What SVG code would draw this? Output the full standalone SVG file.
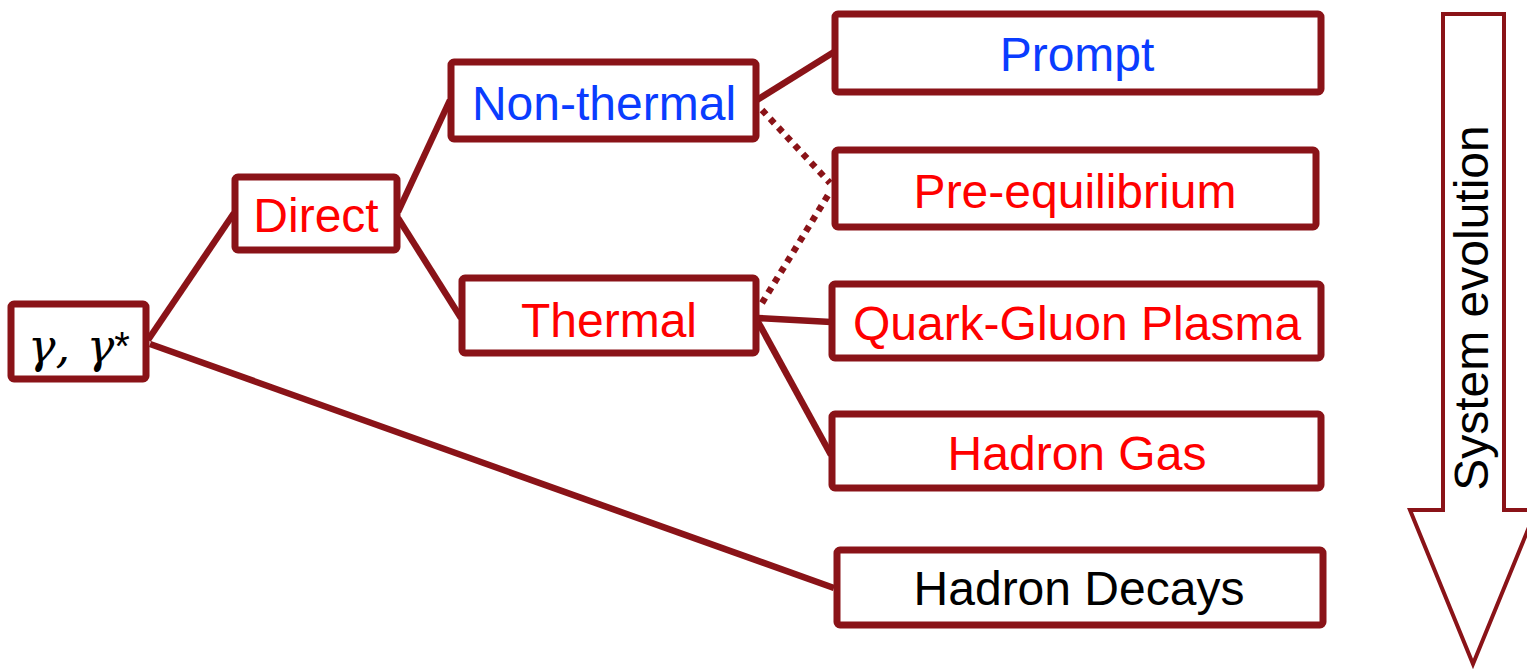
<svg xmlns="http://www.w3.org/2000/svg" width="1527" height="670" viewBox="0 0 1527 670">
  <style>
    .box { fill: #ffffff; stroke: #8a1318; stroke-width: 7; stroke-linejoin: round; }
    .link { fill: none; stroke: #8a1318; stroke-width: 6.5; }
    .dot { fill: none; stroke: #8a1318; stroke-width: 6.5; stroke-dasharray: 6 6; }
    .lbl { font-family: "Liberation Sans", Arial, sans-serif; font-size: 48px; text-anchor: middle; }
    .blue { fill: #0a3cff; }
    .red { fill: #ff0000; }
    .black { fill: #000000; }
    .math { font-family: "DejaVu Serif", "Liberation Serif", serif; font-style: italic; font-size: 46px; fill: #000000; }
  </style>

  <!-- connectors -->
  <g id="connectors">
    <line class="link" x1="148" y1="340" x2="234" y2="213"/>
    <line class="link" x1="150" y1="344" x2="834" y2="588"/>
    <line class="link" x1="398" y1="212" x2="450" y2="100"/>
    <line class="link" x1="398" y1="218" x2="461" y2="318"/>
    <line class="link" x1="757" y1="100" x2="834" y2="52"/>
    <line class="dot" x1="762" y1="110" x2="830" y2="183"/>
    <line class="dot" x1="762" y1="303" x2="830" y2="192"/>
    <line class="link" x1="757" y1="318" x2="831" y2="322"/>
    <line class="link" x1="757" y1="320" x2="831" y2="455"/>
  </g>

  <g id="node-gamma">
    <rect class="box" x="11" y="304" width="135" height="75" rx="3"/>
    <text class="math" x="28" y="362">γ, <tspan dx="2">γ</tspan><tspan font-family="Liberation Sans, sans-serif" font-size="40" dy="-2" font-style="normal">*</tspan></text>
  </g>

  <g id="node-direct">
    <rect class="box" x="235" y="177" width="162" height="73" rx="3"/>
    <text class="lbl red" x="316" y="232">Direct</text>
  </g>

  <g id="node-nonthermal">
    <rect class="box" x="451" y="62" width="305" height="77" rx="3"/>
    <text class="lbl blue" x="604" y="120">Non-thermal</text>
  </g>

  <g id="node-thermal">
    <rect class="box" x="462" y="278" width="294" height="75" rx="3"/>
    <text class="lbl red" x="609" y="337">Thermal</text>
  </g>

  <g id="node-prompt">
    <rect class="box" x="835" y="14" width="486" height="78" rx="3"/>
    <text class="lbl blue" x="1077" y="71">Prompt</text>
  </g>

  <g id="node-preeq">
    <rect class="box" x="835" y="150" width="481" height="77" rx="3"/>
    <text class="lbl red" x="1075" y="208">Pre-equilibrium</text>
  </g>

  <g id="node-qgp">
    <rect class="box" x="832" y="284" width="489" height="74" rx="3"/>
    <text class="lbl red" x="1077" y="340">Quark-Gluon Plasma</text>
  </g>

  <g id="node-hadrongas">
    <rect class="box" x="832" y="414" width="489" height="74" rx="3"/>
    <text class="lbl red" x="1077" y="470">Hadron Gas</text>
  </g>

  <g id="node-hadrondecays">
    <rect class="box" x="837" y="550" width="486" height="75" rx="3"/>
    <text class="lbl black" x="1079" y="605">Hadron Decays</text>
  </g>

  <!-- time axis -->
  <g id="evolution-arrow">
    <path d="M1443,14 L1504,14 L1504,510 L1536,510 L1473,664 L1410,510 L1443,510 Z" fill="#ffffff" stroke="#8a1318" stroke-width="4"/>
    <text class="lbl black" font-size="44" transform="translate(1488,308) rotate(-90)">System evolution</text>
  </g>
</svg>
